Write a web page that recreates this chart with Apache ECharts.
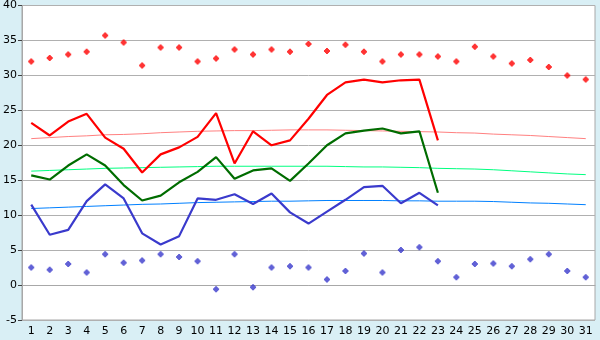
<!DOCTYPE html>
<html>
<head>
<meta charset="utf-8">
<script src="https://cdn.jsdelivr.net/npm/echarts@6/dist/echarts.min.js"></script>
<style>
html,body{margin:0;padding:0;background:#d9eff5;}
#c{width:600px;height:340px;}
</style>
</head>
<body>
<div id="c"></div>
<script>
var days = [];
for (var d = 1; d <= 31; d++) days.push(String(d));

var yTicks = { min: -5, max: 40, interval: 5 };

var maxDaily = [23.2, 21.4, 23.4, 24.5, 21.1, 19.5, 16.1, 18.7, 19.7, 21.2, 24.6, 17.4, 22.0, 20.0, 20.7, 23.8, 27.2, 29.0, 29.4, 29.0, 29.3, 29.4, 20.7];
var meanDaily = [15.7, 15.1, 17.1, 18.7, 17.1, 14.3, 12.1, 12.8, 14.7, 16.2, 18.3, 15.2, 16.4, 16.7, 14.9, 17.4, 20.0, 21.7, 22.1, 22.4, 21.7, 22.0, 13.2];
var minDaily = [11.5, 7.2, 7.9, 12.0, 14.4, 12.4, 7.4, 5.8, 7.0, 12.4, 12.2, 13.0, 11.6, 13.1, 10.4, 8.8, 10.5, 12.2, 14.0, 14.2, 11.7, 13.2, 11.4];

var maxRecord = [32.0, 32.5, 33.0, 33.4, 35.7, 34.7, 31.4, 34.0, 34.0, 32.0, 32.4, 33.7, 33.0, 33.7, 33.4, 34.5, 33.5, 34.4, 33.4, 32.0, 33.0, 33.0, 32.7, 32.0, 34.1, 32.7, 31.7, 32.2, 31.2, 30.0, 29.4];
var minRecord = [2.5, 2.2, 3.0, 1.8, 4.4, 3.2, 3.5, 4.4, 4.0, 3.4, -0.6, 4.4, -0.3, 2.5, 2.7, 2.5, 0.8, 2.0, 4.5, 1.8, 5.0, 5.4, 3.4, 1.1, 3.0, 3.1, 2.7, 3.7, 4.4, 2.0, 1.1];

var maxNormal = [20.95, 21.1, 21.25, 21.35, 21.5, 21.55, 21.65, 21.8, 21.9, 22.0, 22.05, 22.1, 22.1, 22.15, 22.2, 22.2, 22.2, 22.15, 22.1, 22.05, 22.0, 21.95, 21.9, 21.8, 21.75, 21.6, 21.5, 21.4, 21.25, 21.1, 20.95];
var meanNormal = [16.3, 16.4, 16.5, 16.6, 16.7, 16.75, 16.8, 16.85, 16.9, 16.95, 17.0, 17.0, 17.0, 17.0, 17.0, 17.0, 17.0, 16.95, 16.9, 16.9, 16.85, 16.8, 16.7, 16.65, 16.6, 16.5, 16.35, 16.2, 16.05, 15.9, 15.8];
var minNormal = [10.95, 11.05, 11.15, 11.25, 11.35, 11.45, 11.55, 11.6, 11.7, 11.8, 11.85, 11.9, 11.95, 12.0, 12.0, 12.05, 12.1, 12.1, 12.1, 12.1, 12.05, 12.05, 12.0, 12.0, 12.0, 11.95, 11.85, 11.75, 11.7, 11.6, 11.5];

var marker = 'path://M2,0H4V1H5V2H6V4H5V5H4V6H2V5H1V4H0V2H1V1H2Z';
var font = 'DejaVu Sans';

var chart = echarts.init(document.getElementById('c'));

function line(data, color, width) {
  return { type: 'line', data: data, symbol: 'none', showSymbol: false, animation: false,
    lineStyle: { color: color, width: width }, itemStyle: { color: color }, z: 2 };
}
function scat(data, color) {
  return { type: 'scatter', data: data, symbol: marker, symbolSize: 6, animation: false,
    itemStyle: { color: color }, z: 3 };
}

chart.setOption({
  backgroundColor: '#d9eff5',
  animation: false,
  grid: { left: 20, right: 5, top: 5, bottom: 20, show: true, backgroundColor: '#ffffff', borderColor: '#a8a8a8', borderWidth: 1 },
  xAxis: {
    type: 'category', data: days, boundaryGap: true,
    axisLine: { lineStyle: { color: '#a8a8a8' } },
    axisTick: { alignWithLabel: true, length: 4, lineStyle: { color: '#404040' } },
    axisLabel: { color: '#000', fontFamily: font, fontSize: 11, margin: 6, interval: 0 },
    splitLine: { show: false }
  },
  yAxis: {
    type: 'value', min: yTicks.min, max: yTicks.max, interval: yTicks.interval,
    axisLine: { show: true, lineStyle: { color: '#a8a8a8' } },
    axisTick: { show: true, length: 4, lineStyle: { color: '#404040' } },
    axisLabel: { color: '#000', fontFamily: font, fontSize: 11, margin: 5 },
    splitLine: { lineStyle: { color: '#b0b0b0', width: 1 } }
  },
  series: [
    line(maxNormal, '#ff8080', 1),
    line(meanNormal, '#00ff80', 1),
    line(minNormal, '#0080ff', 1),
    line(maxDaily, '#ff0000', 2.2),
    line(meanDaily, '#006c00', 2.2),
    line(minDaily, '#3a3acc', 2.2),
    scat(maxRecord, '#ff0000'),
    scat(minRecord, '#3a3acc')
  ]
});
</script>
</body>
</html>
